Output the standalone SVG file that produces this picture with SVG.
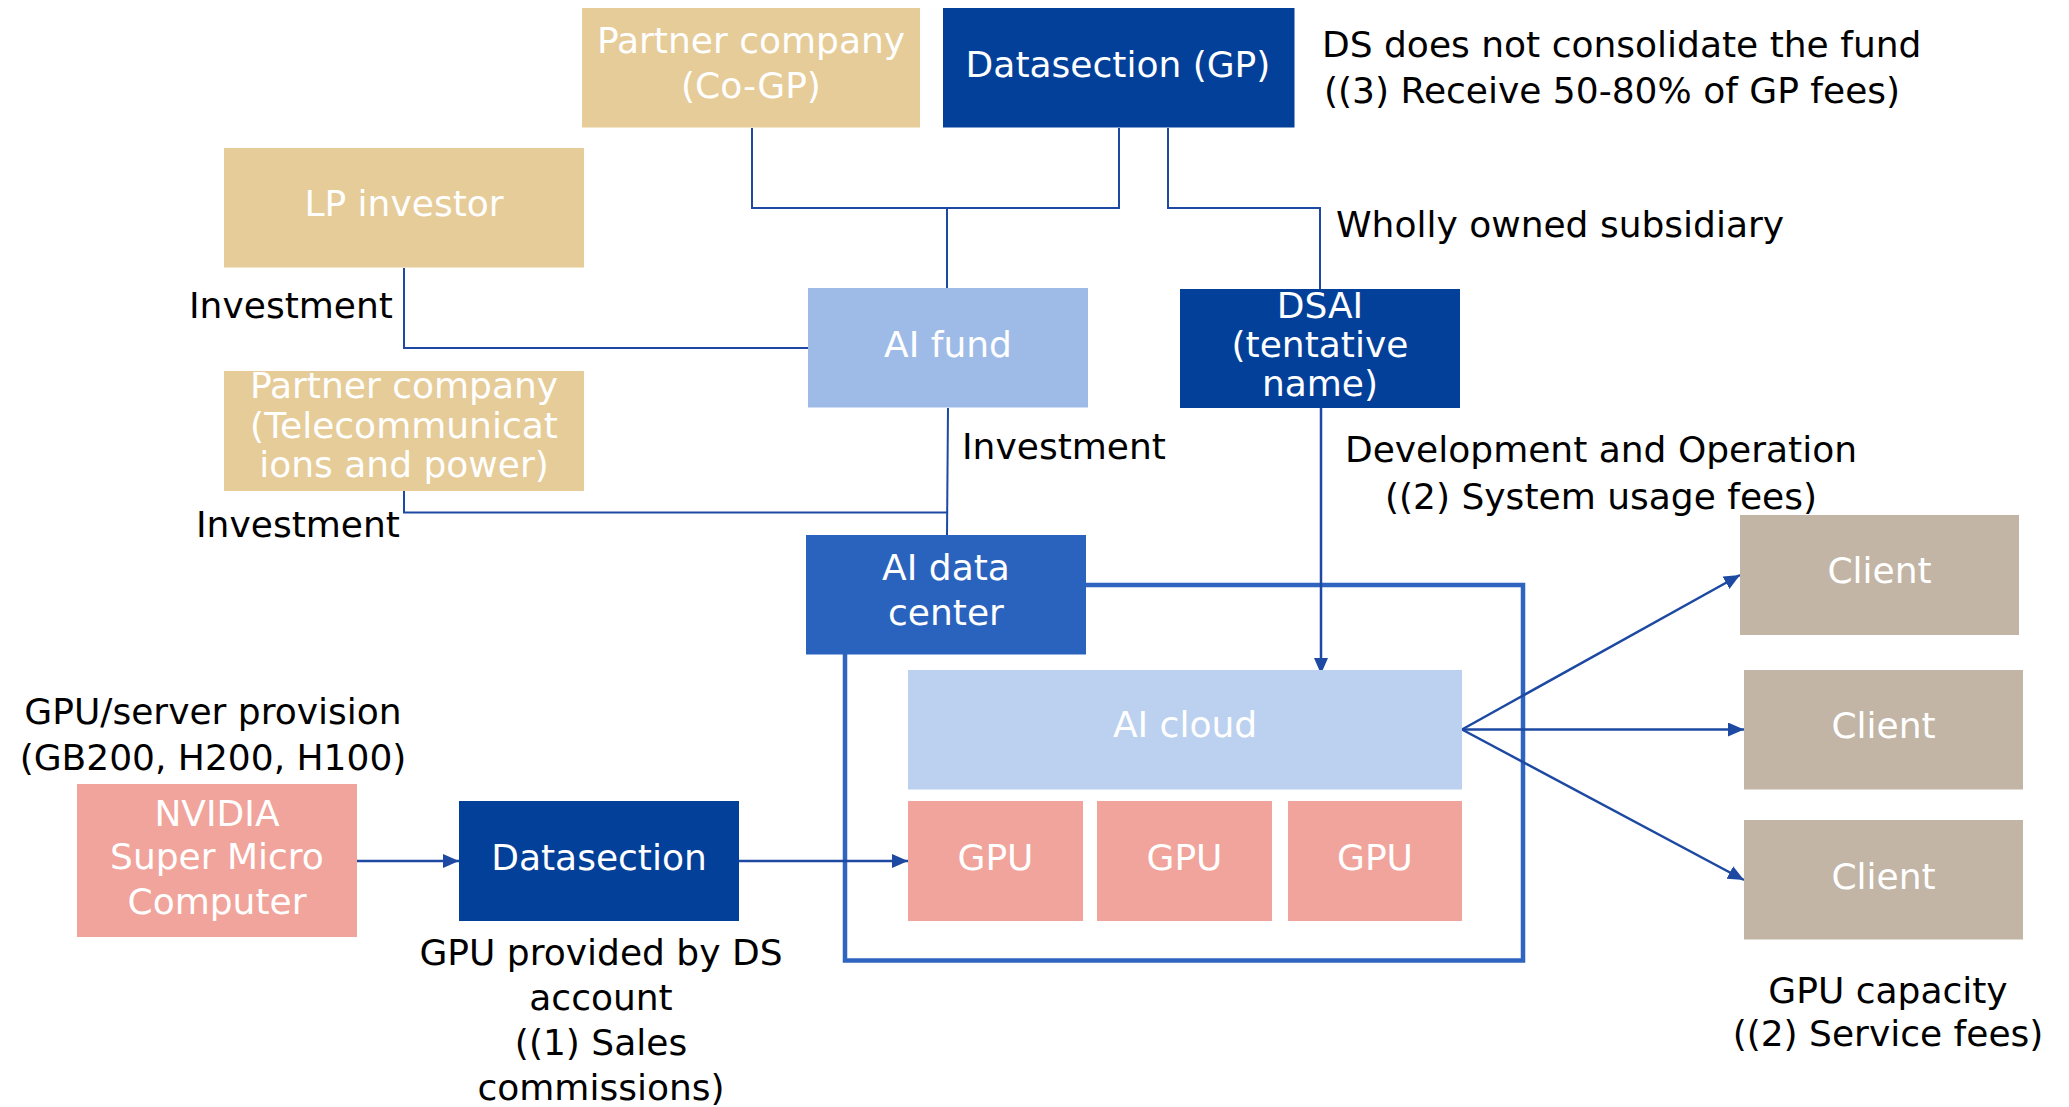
<svg xmlns="http://www.w3.org/2000/svg" width="2069" height="1107" viewBox="0 0 2069 1107">
<style>
text{font-family:"DejaVu Sans","Liberation Sans",sans-serif;font-size:36px}
.w{fill:#ffffff;text-anchor:middle}
.k{fill:#000000}
.c{text-anchor:middle}
.tan{fill:#E6CC99}
.navy{fill:#03409A}
.pink{fill:#F1A49B}
.client{fill:#C2B5A6}
.ln{fill:none;stroke:#1D49A2;stroke-width:2}
.ar{fill:none;stroke:#1D49A2;stroke-width:2.5;marker-end:url(#ah)}
</style>
<defs>
<marker id="ah" markerUnits="userSpaceOnUse" markerWidth="16" markerHeight="14" refX="16" refY="7" orient="auto">
<path d="M0,0 L16,7 L0,14 z" fill="#1D49A2"/>
</marker>
</defs>
<rect width="2069" height="1107" fill="#ffffff"/>

<g id="frame"><rect x="845" y="585" width="678" height="375.5" fill="none" stroke="#2F65C0" stroke-width="4.5"/></g>

<g id="connectors">
<polyline class="ln" points="752,128 752,208 1119,208 1119,128"/>
<line class="ln" x1="947" y1="208" x2="947" y2="288"/>
<polyline class="ln" points="1168,128 1168,208 1320,208 1320,289"/>
<polyline class="ln" points="404,268 404,348 808,348"/>
<polyline class="ln" points="404,491 404,512.5 947,512.5"/>
<line class="ln" x1="948" y1="408" x2="947" y2="535"/>
<line class="ar" x1="1321" y1="408" x2="1321" y2="674"/>
<line class="ar" x1="357" y1="861" x2="459" y2="861"/>
<line class="ar" x1="739" y1="861" x2="908" y2="861"/>
<line class="ar" x1="1462" y1="729.5" x2="1740" y2="575"/>
<line class="ar" x1="1462" y1="729.5" x2="1744" y2="729.5"/>
<line class="ar" x1="1462" y1="729.5" x2="1744" y2="880"/>
</g>

<g id="cogp"><rect class="tan" x="582" y="8" width="338" height="119.5"/>
<text class="w" x="751" y="53">Partner company</text><text class="w" x="751" y="98">(Co-GP)</text></g>

<g id="gp"><rect class="navy" x="943" y="8" width="351.5" height="119.5"/>
<text class="w" x="1118" y="77">Datasection (GP)</text></g>

<g id="lp"><rect class="tan" x="224" y="148" width="360" height="119.5"/>
<text class="w" x="404" y="216">LP investor</text></g>

<g id="aifund"><rect fill="#9EBBE7" x="808" y="288" width="280" height="119.5"/>
<text class="w" x="948" y="357">AI fund</text></g>

<g id="dsai"><rect class="navy" x="1180" y="289" width="280" height="119"/>
<text class="w" x="1320" y="318">DSAI</text><text class="w" x="1320" y="357">(tentative</text><text class="w" x="1320" y="396">name)</text></g>

<g id="telecom"><rect class="tan" x="224" y="371" width="360" height="120"/>
<text class="w" x="404" y="398">Partner company</text><text class="w" x="404" y="437.5">(Telecommunicat</text><text class="w" x="404" y="477">ions and power)</text></g>

<g id="aidc"><rect fill="#2A63BE" x="806" y="535" width="280" height="119.5"/>
<text class="w" x="946" y="580">AI data</text><text class="w" x="946" y="625">center</text></g>

<g id="aicloud"><rect fill="#BBD1EF" x="908" y="670" width="554" height="119.5"/>
<text class="w" x="1185" y="737">AI cloud</text></g>

<g id="gpu1"><rect class="pink" x="908" y="801" width="175" height="120"/><text class="w" x="995.5" y="870">GPU</text></g>
<g id="gpu2"><rect class="pink" x="1097" y="801" width="175" height="120"/><text class="w" x="1184.5" y="870">GPU</text></g>
<g id="gpu3"><rect class="pink" x="1288" y="801" width="174" height="120"/><text class="w" x="1375" y="870">GPU</text></g>

<g id="nvidia"><rect class="pink" x="77" y="784" width="280" height="153"/>
<text class="w" x="217" y="826">NVIDIA</text><text class="w" x="217" y="869">Super Micro</text><text class="w" x="217" y="914">Computer</text></g>

<g id="datasection"><rect class="navy" x="459" y="801" width="280" height="120"/>
<text class="w" x="599" y="870">Datasection</text></g>

<g id="client1"><rect class="client" x="1740" y="515" width="279" height="120"/><text class="w" x="1879.5" y="583">Client</text></g>
<g id="client2"><rect class="client" x="1744" y="670" width="279" height="119.5"/><text class="w" x="1883.5" y="738">Client</text></g>
<g id="client3"><rect class="client" x="1744" y="820" width="279" height="119.5"/><text class="w" x="1883.5" y="889">Client</text></g>

<g id="labels">
<text class="k" x="1322" y="57">DS does not consolidate the fund</text>
<text class="k" x="1324" y="103">((3) Receive 50-80% of GP fees)</text>
<text class="k" x="1336" y="237">Wholly owned subsidiary</text>
<text class="k" x="189" y="318">Investment</text>
<text class="k" x="962" y="459">Investment</text>
<text class="k" x="196" y="537">Investment</text>
<text class="k c" x="1601" y="462">Development and Operation</text>
<text class="k c" x="1601" y="509">((2) System usage fees)</text>
<text class="k c" x="213" y="724">GPU/server provision</text>
<text class="k c" x="213" y="770">(GB200, H200, H100)</text>
<text class="k c" x="601" y="965">GPU provided by DS</text>
<text class="k c" x="601" y="1010">account</text>
<text class="k c" x="601" y="1055">((1) Sales</text>
<text class="k c" x="601" y="1100">commissions)</text>
<text class="k c" x="1888" y="1003">GPU capacity</text>
<text class="k c" x="1888" y="1046">((2) Service fees)</text>
</g>
</svg>
